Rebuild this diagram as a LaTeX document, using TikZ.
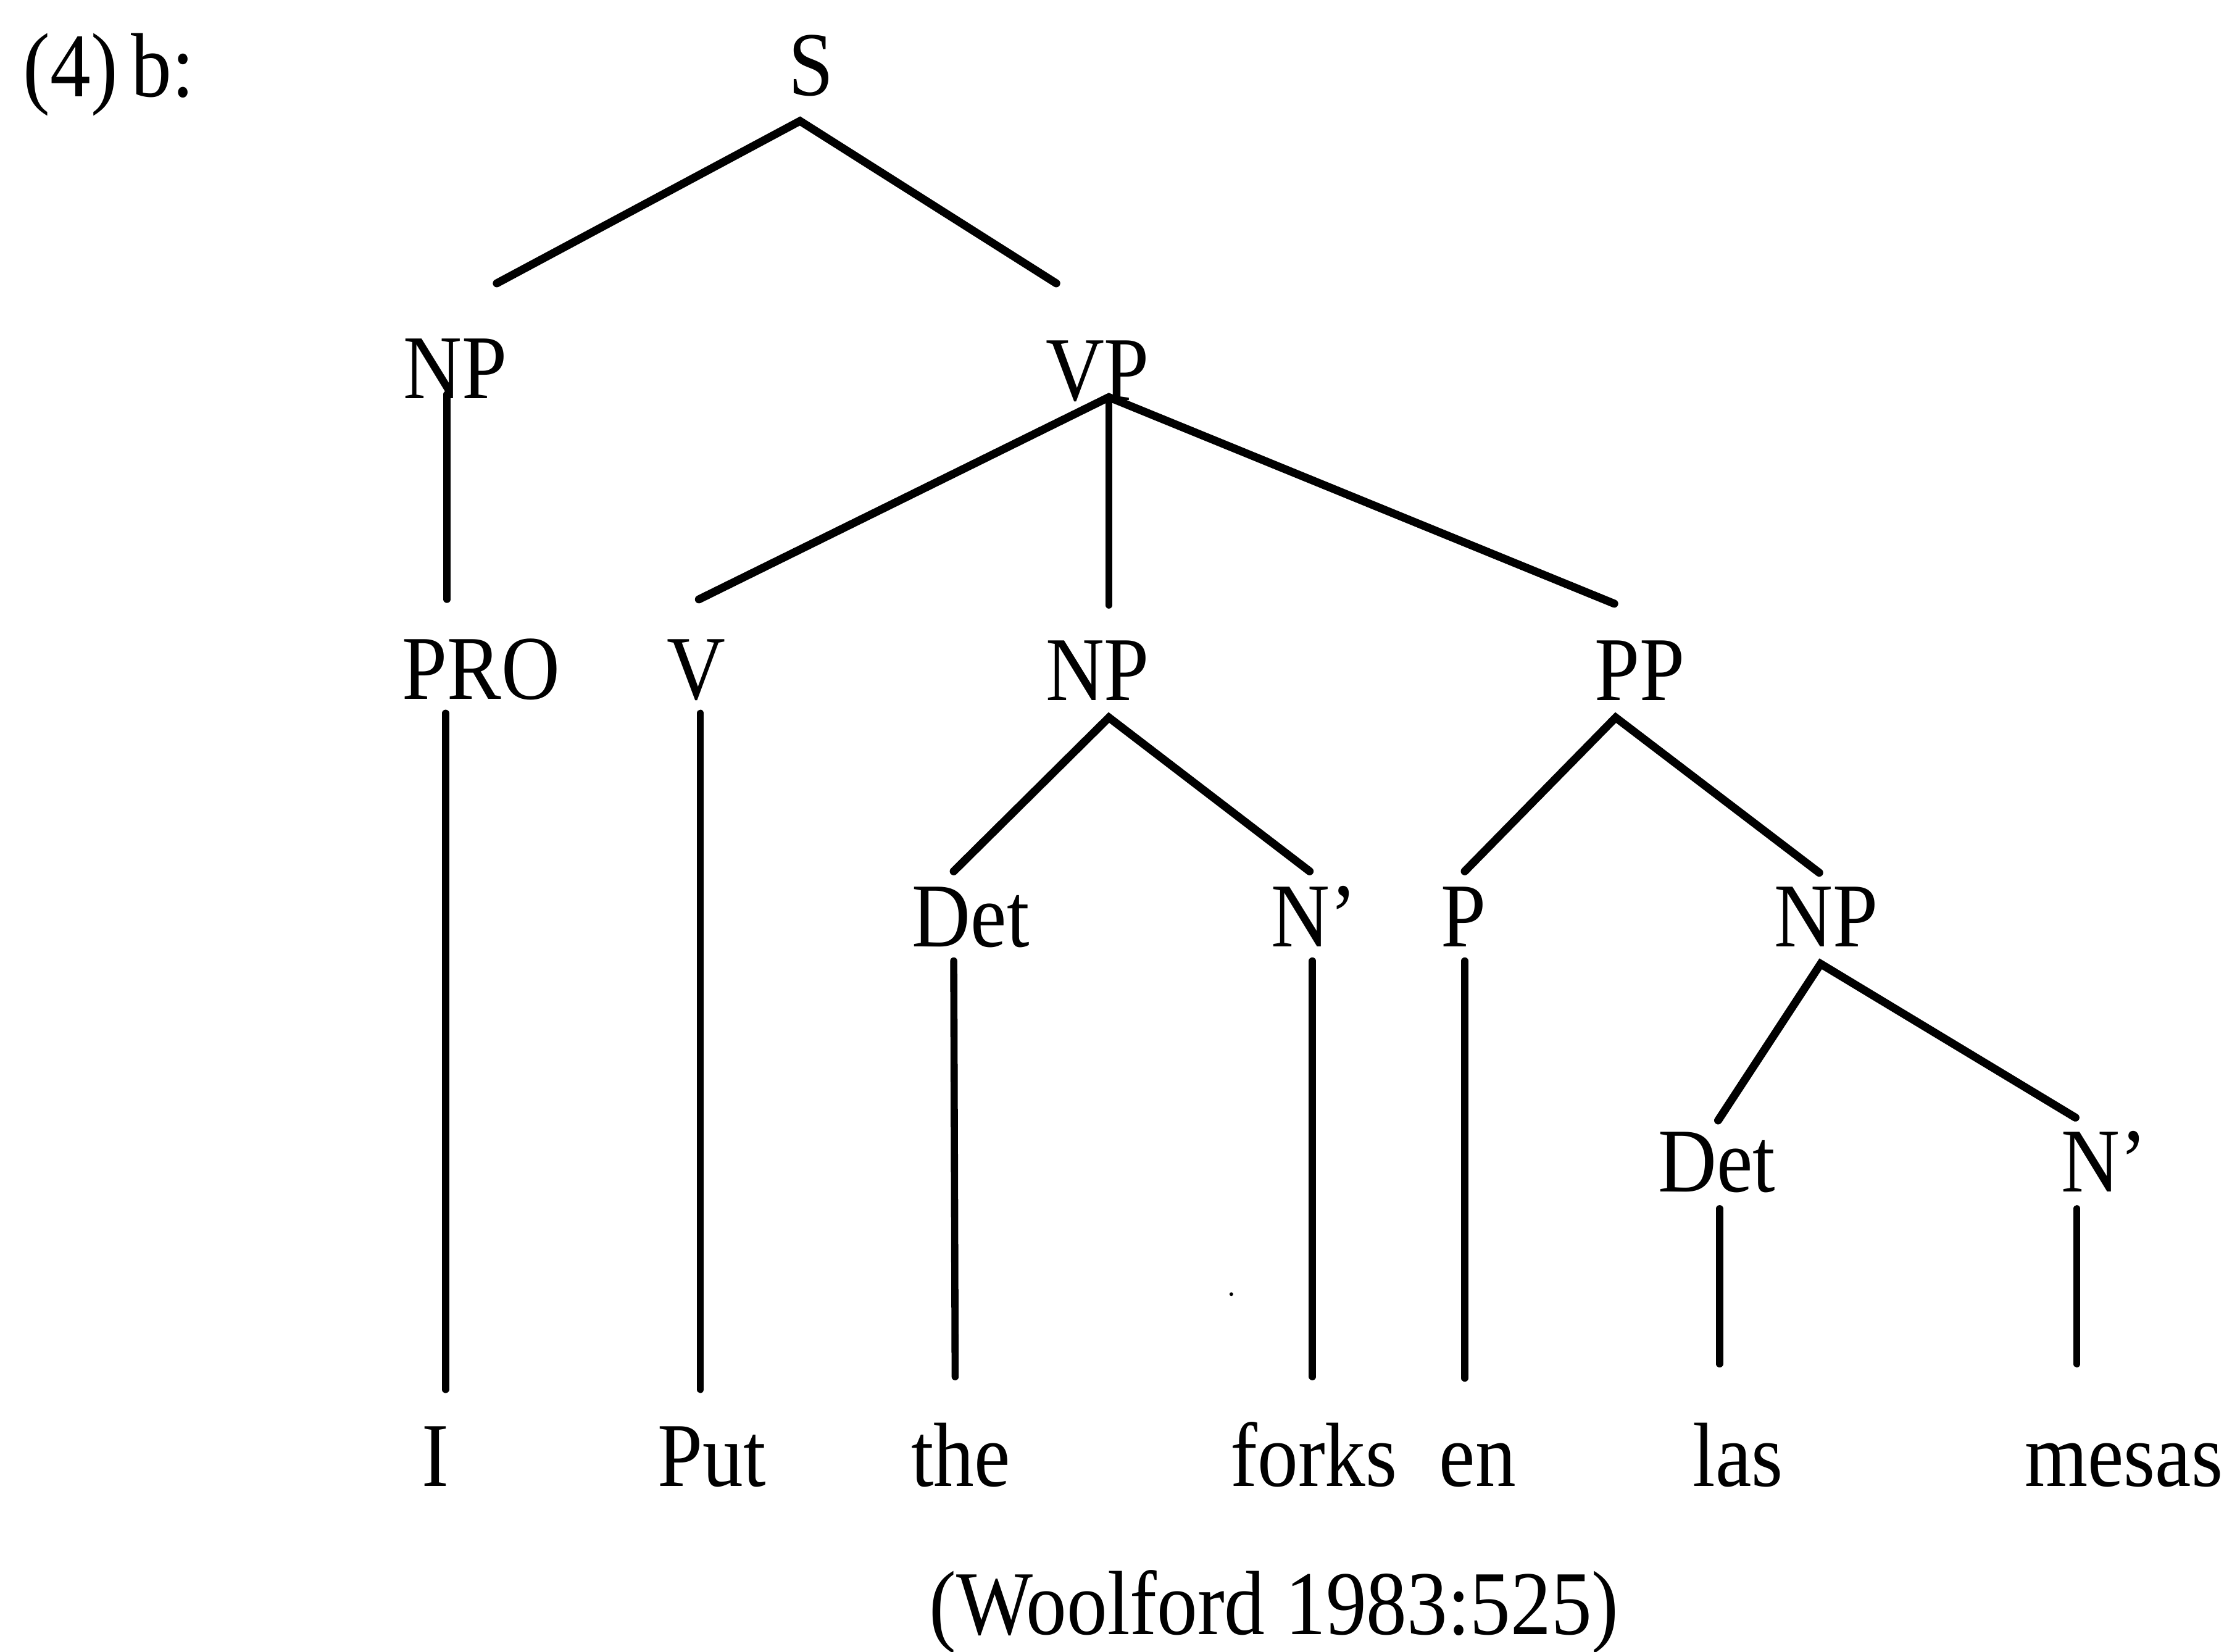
\documentclass[tikz,border=0pt]{standalone}
\usepackage{fontspec}
\usepackage{graphicx}
\setmainfont{Liberation Serif}
\usetikzlibrary{calc}
% labels are set slightly condensed
\newcommand{\lbl}[1]{\scalebox{0.89}[1]{#1}}
\tikzset{
  lab/.style={anchor=base, inner sep=0pt, font=\fontsize{42}{50}\selectfont},
  branch/.style={line width=3.7pt, line cap=round},
  stem/.style={line width=3.3pt, line cap=round},
}
\begin{document}
\begin{tikzpicture}[x=0.02306cm, y=-0.02306cm]
\useasboundingbox (0,0) rectangle (1568,1160);

% example number
\node[lab, anchor=base west] (ex) at (16,68) {\lbl{(4)\,b:}};

% category labels
\node[lab] (S)    at (570,67)  {\lbl{S}};
\node[lab] (NPa)  at (320,280) {\lbl{NP}};
\node[lab] (VP)   at (771,281) {\lbl{VP}};
\node[lab] (PRO)  at (338,491) {\lbl{PRO}};
\node[lab] (V)    at (489,491) {\lbl{V}};
\node[lab] (NPb)  at (771,492) {\lbl{NP}};
\node[lab] (PP)   at (1152,492){\lbl{PP}};
\node[lab] (Det1) at (682,665) {\lbl{Det}};
\node[lab] (Nb1)  at (923,665) {\lbl{N’}};
\node[lab] (P)    at (1028,665){\lbl{P}};
\node[lab] (NPc)  at (1283,665){\lbl{NP}};
\node[lab] (Det2) at (1206,837){\lbl{Det}};
\node[lab] (Nb2)  at (1478,837){\lbl{N’}};

% terminal words
\node[lab] (wI)     at (306,1044)  {\lbl{I}};
\node[lab] (wPut)   at (500,1044)  {\lbl{Put}};
\node[lab] (wthe)   at (675,1044)  {\lbl{the}};
\node[lab] (wforks) at (923,1044)  {\lbl{forks}};
\node[lab] (wen)    at (1038,1044) {\lbl{en}};
\node[lab] (wlas)   at (1221,1044) {\lbl{las}};
\node[lab] (wmesas) at (1492,1044) {\lbl{mesas}};

% source
\node[lab] (cite) at (895,1148) {\lbl{(Woolford 1983:525)}};

% branching lines
\draw[branch] ($(NPa.base)+(29,-81)$) -- ($(S.base)+(-8,18)$) -- ($(VP.base)+(-29,-82)$);
\draw[branch] ($(V.base)+(2,-70)$) -- ($(VP.base)+(8,-2)$) -- ($(PP.base)+(-18,-68)$);
\draw[stem]   ($(VP.base)+(8,-2)$) -- ($(NPb.base)+(8,-67)$);
\draw[branch] ($(Det1.base)+(-12,-53)$) -- ($(NPb.base)+(8,12)$) -- ($(Nb1.base)+(-3,-53)$);
\draw[branch] ($(P.base)+(1,-53)$) -- ($(PP.base)+(-17,12)$) -- ($(NPc.base)+(-5,-52)$);
\draw[branch] ($(Det2.base)+(1,-50)$) -- ($(NPc.base)+(-4,12)$) -- ($(Nb2.base)+(-20,-52)$);

% unary lines
\draw[stem] ($(NPa.base)+(-6,-3)$)  -- ($(PRO.base)+(-24,-70)$);
\draw[stem] ($(PRO.base)+(-25,10)$) -- ($(wI.base)+(7,-68)$);
\draw[stem] ($(V.base)+(3,10)$)     -- ($(wPut.base)+(-8,-68)$);
\draw[stem] ($(Det1.base)+(-12,10)$) -- ($(wthe.base)+(-4,-77)$);
\draw[stem] ($(Nb1.base)+(-1,10)$)  -- ($(wforks.base)+(-1,-77)$);
\draw[stem] ($(P.base)+(1,10)$)     -- ($(wen.base)+(-9,-76)$);
\draw[stem] ($(Det2.base)+(2,12)$)  -- ($(wlas.base)+(-13,-86)$);
\draw[stem] ($(Nb2.base)+(-19,12)$) -- ($(wmesas.base)+(-33,-86)$);

% stray speck
\fill (865,909) circle (1.3);
\end{tikzpicture}
\end{document}
